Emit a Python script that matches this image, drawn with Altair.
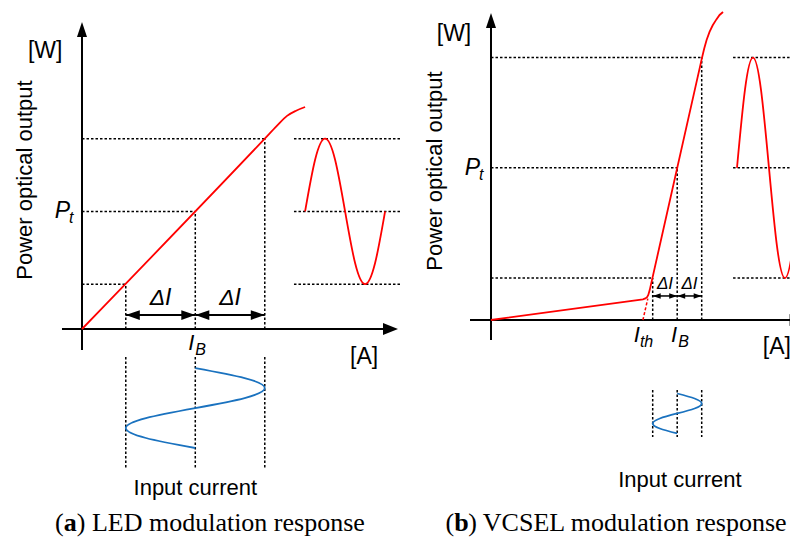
import altair as alt
import pandas as pd

# ---------------- data ----------------
# one period of the sinusoids, sampled every eighth of a period (read from the curves)
phase = [0, 0.125, 0.25, 0.375, 0.5, 0.625, 0.75, 0.875, 1.0]
wave = [0, 0.71, 1, 0.71, 0, -0.71, -1, -0.71, 0]

# (a) LED  -- current in units of dI, power in units of dP
a_IB, a_dI = 1.63, 1.0
a_levels = [0.61, 1.6, 2.59]          # P(IB-dI), Pt, P(IB+dI)
a_curve_I = [0, 2.63, 2.8, 2.95, 3.08, 3.21]
a_curve_P = [0, 2.59, 2.76, 2.9, 2.97, 3.02]
a_out_t0, a_out_T = 3.21, 1.151       # output waveform start / period (time)
a_in_t0, a_in_T = -0.531, 1.088       # input waveform start / period (time, downward)
a_guide = [-0.381, -1.891]
a_right = [3.05, 4.6]

# (b) VCSEL
b_Ith = 6.2
b_IB, b_dI = 7.6, 1.0
b_levels = [0.57, 2.07, 3.57]
b_curve_I = [0, 6.2, 6.3, 6.37, 6.42, 6.48, 8.6, 8.7, 8.8, 8.92, 9.05, 9.2, 9.33, 9.47]
b_curve_P = [0, 0.282, 0.294, 0.31, 0.34, 0.41, 3.55, 3.69, 3.81, 3.92, 4.01, 4.09, 4.15, 4.19]
b_ext_I = [6.2, 6.4]
b_ext_P = [0, 0.29]
b_out_t0, b_out_T = 10.04, 2.612
b_in_t0, b_in_T = -1.0, 0.544
b_guide = [-0.952, -1.592]
b_right = [9.88, 12.6]

RED = "#ff0000"
BLUE = "#1a72bf"
SANS = "Liberation Sans"
SERIF = "Liberation Serif"

UP = "M0,0L0.67,2L-0.67,2Z"
RIGHT = "M0,0L-2,-0.8L-2,0.8Z"
LEFTA = "M0,0L2,-0.7L2,0.7Z"
RIGHTA = "M0,0L-2,-0.7L-2,0.7Z"


def panel(p):
    xs = alt.Scale(domain=p["xdom"], nice=False, zero=False)
    ys = alt.Scale(domain=p["ydom"], nice=False, zero=False)

    def X(f="x"):
        return alt.X(f, type="quantitative", scale=xs, axis=None)

    def Y(f="y"):
        return alt.Y(f, type="quantitative", scale=ys, axis=None)

    def X2(f="x2"):
        return alt.X2(f)

    def Y2(f="y2"):
        return alt.Y2(f)

    layers = []
    lo, mid, hi = p["levels"]
    IB, dI = p["IB"], p["dI"]
    Is = [IB - dI, IB, IB + dI]
    Ps = [lo, mid, hi]

    # dotted guides
    g = []
    for I, P in zip(Is, Ps):
        g.append(dict(x=0, x2=I, y=P, y2=P))
        g.append(dict(x=I, x2=I, y=0, y2=P))
        g.append(dict(x=I, x2=I, y=p["guide"][0], y2=p["guide"][1]))
        g.append(dict(x=p["right"][0], x2=p["right"][1], y=P, y2=P))
    layers.append(alt.Chart(pd.DataFrame(g)).mark_rule(
        color="black", strokeWidth=1.5, strokeDash=[2.5, 2]).encode(
        x=X(), x2=X2(), y=Y(), y2=Y2()))

    # axes
    ax = pd.DataFrame([
        dict(x=0, x2=0, y=p["ybot"], y2=p["ytip"] - 0.1),
        dict(x=p["xleft"], x2=p["xtip"] - 0.1 * p["xu"], y=0, y2=0),
    ])
    layers.append(alt.Chart(ax).mark_rule(color="black", strokeWidth=2).encode(
        x=X(), x2=X2(), y=Y(), y2=Y2()))
    layers.append(alt.Chart(pd.DataFrame([dict(x=0, y=p["ytip"])])).mark_point(
        shape=UP, size=225, filled=True, opacity=1, color="black", strokeWidth=0).encode(x=X(), y=Y()))
    layers.append(alt.Chart(pd.DataFrame([dict(x=p["xtip"], y=0)])).mark_point(
        shape=RIGHT, size=225, filled=True, opacity=1, color="black", strokeWidth=0).encode(x=X(), y=Y()))

    # double arrows
    ar = pd.DataFrame([dict(x=Is[0], x2=Is[1], y=p["arr_y"], y2=p["arr_y"]),
                       dict(x=Is[1], x2=Is[2], y=p["arr_y"], y2=p["arr_y"])])
    layers.append(alt.Chart(ar).mark_rule(color="black", strokeWidth=p["arr_w"]).encode(
        x=X(), x2=X2(), y=Y(), y2=Y2()))
    layers.append(alt.Chart(pd.DataFrame([dict(x=Is[0], y=p["arr_y"]), dict(x=Is[1], y=p["arr_y"])])).mark_point(
        shape=LEFTA, size=p["arr_size"], filled=True, opacity=1, color="black", strokeWidth=0).encode(x=X(), y=Y()))
    layers.append(alt.Chart(pd.DataFrame([dict(x=Is[1], y=p["arr_y"]), dict(x=Is[2], y=p["arr_y"])])).mark_point(
        shape=RIGHTA, size=p["arr_size"], filled=True, opacity=1, color="black", strokeWidth=0).encode(x=X(), y=Y()))

    # characteristic curve
    cur = pd.DataFrame(dict(x=p["curve_I"], y=p["curve_P"], i=range(len(p["curve_I"]))))
    layers.append(alt.Chart(cur).mark_line(color=RED, strokeWidth=1.8, interpolate=p["interp"]).encode(
        x=X(), y=Y(), order="i:Q"))
    if "ext_I" in p:
        ext = pd.DataFrame(dict(x=p["ext_I"], y=p["ext_P"], i=[0, 1]))
        layers.append(alt.Chart(ext).mark_line(color=RED, strokeWidth=1.5, strokeDash=[3, 2]).encode(
            x=X(), y=Y(), order="i:Q"))

    # output waveform
    dP = hi - mid
    out = pd.DataFrame(dict(x=[p["out_t0"] + f * p["out_T"] for f in phase],
                            y=[mid + dP * s for s in wave], i=range(len(phase))))
    layers.append(alt.Chart(out).mark_line(color=RED, strokeWidth=1.8, interpolate="natural").encode(
        x=X(), y=Y(), order="i:Q"))

    # input waveform
    inp = pd.DataFrame(dict(x=[IB + dI * s for s in wave],
                            y=[p["in_t0"] - f * p["in_T"] for f in phase], i=range(len(phase))))
    layers.append(alt.Chart(inp).mark_line(color=BLUE, strokeWidth=1.8, interpolate="natural").encode(
        x=X(), y=Y(), order="i:Q"))

    def text(rows, size, font=SANS, style="normal", weight="normal", align="center",
             dx=0, dy=0, angle=0, baseline="alphabetic"):
        kw = dict(fontSize=size, font=font, fontStyle=style, fontWeight=weight, align=align,
                  dx=dx, dy=dy, baseline=baseline, color="black")
        if angle:
            kw["angle"] = angle
        return alt.Chart(pd.DataFrame(rows)).mark_text(**kw).encode(x=X(), y=Y(), text="t:N")

    T = p["txt"]
    layers.append(text([dict(x=T["W"][0], y=T["W"][1], t="[W]")], 23))
    layers.append(text([dict(x=T["A"][0], y=T["A"][1], t="[A]")], 23))
    layers.append(text([dict(x=T["ylab"][0], y=T["ylab"][1], t="Power optical output")], 22,
                       angle=270, baseline="middle"))
    layers.append(text([dict(x=IB + T["inp"][0], y=T["inp"][1], t="Input current")], 22))
    # P_t
    layers.append(text([dict(x=0, y=mid, t="P")], 23, style="italic", align="right",
                       dx=T["P_dx"], dy=7))
    layers.append(text([dict(x=0, y=mid, t="t")], 16, style="italic", align="left",
                       dx=T["P_dx"] - 1, dy=12))
    # delta I
    layers.append(text([dict(x=(Is[0] + Is[1]) / 2, y=T["dI_y"], t="ΔI"),
                        dict(x=(Is[1] + Is[2]) / 2, y=T["dI_y"], t="ΔI")],
                       T["dI_size"], style="italic"))
    # I_B
    layers.append(text([dict(x=IB, y=0, t="I")], 22, style="italic", align="right",
                       dx=T["IB_dx"], dy=T["I_dy"]))
    layers.append(text([dict(x=IB, y=0, t="B")], 16, style="italic", align="left",
                       dx=T["IB_dx"] + 1, dy=T["I_dy"] + 5))
    if "Ith" in p:
        layers.append(text([dict(x=p["Ith"], y=0, t="I")], 22, style="italic", align="right",
                           dx=-3, dy=T["I_dy"]))
        layers.append(text([dict(x=p["Ith"], y=0, t="th")], 16, style="italic", align="left",
                           dx=-3, dy=T["I_dy"] + 5))
    # caption
    cx, cy = T["cap"]
    layers.append(text([dict(x=cx, y=cy, t="(")], 26, font=SERIF, align="left"))
    layers.append(text([dict(x=cx, y=cy, t=p["letter"])], 26, font=SERIF, weight="bold",
                       align="left", dx=8.7))
    layers.append(text([dict(x=cx, y=cy, t=") " + p["caption"])], 26, font=SERIF,
                       align="left", dx=8.7 + T["letter_w"]))
    return alt.layer(*layers)


# screen mapping: canvas 782 x 529 starting at page (8, 8)
pa = dict(
    xdom=[-1.0647, 10.187], ydom=[-2.8299, 4.3673], xu=1.0, interp="monotone",
    IB=a_IB, dI=a_dI, levels=a_levels, curve_I=a_curve_I, curve_P=a_curve_P,
    out_t0=a_out_t0, out_T=a_out_T, in_t0=a_in_t0, in_T=a_in_T,
    guide=a_guide, right=a_right,
    ybot=-0.286, ytip=4.177, xleft=-0.288, xtip=4.547,
    arr_y=0.19, arr_w=2, arr_size=196,
    letter="a", caption="LED modulation response",
    txt=dict(W=(-0.53, 3.687), A=(4.06, -0.476), ylab=(-0.82, 2.027), inp=(0, -2.259),
             P_dx=-12, dI_y=0.327, dI_size=23, IB_dx=-1, I_dy=21,
             cap=(-0.388, -2.748), letter_w=13),
)
pb = dict(
    xdom=[-19.714, 12.204], ydom=[-2.9524, 4.2449], xu=2.84, interp="linear",
    IB=b_IB, dI=b_dI, levels=b_levels, curve_I=b_curve_I, curve_P=b_curve_P,
    ext_I=b_ext_I, ext_P=b_ext_P, Ith=b_Ith,
    out_t0=b_out_t0, out_T=b_out_T, in_t0=b_in_t0, in_T=b_in_T,
    guide=b_guide, right=b_right,
    ybot=-0.272, ytip=4.177, xleft=-0.857, xtip=12.8,
    arr_y=0.327, arr_w=1.5, arr_size=64,
    letter="b", caption="VCSEL modulation response",
    txt=dict(W=(-1.51, 3.796), A=(11.67, -0.463), ylab=(-2.29, 2.027), inp=(0.11, -2.272),
             P_dx=-11, dI_y=0.422, dI_size=17, IB_dx=0, I_dy=22,
             cap=(-1.86, -2.871), letter_w=14),
)

chart = alt.layer(panel(pa), panel(pb)).resolve_scale(
    x="independent", y="independent"
).properties(
    width=782, height=529, padding=0, autosize=alt.AutoSizeParams(type="none")
).configure_view(stroke=None)

chart.save("out.html", embed_options={"renderer": "svg", "actions": False})
